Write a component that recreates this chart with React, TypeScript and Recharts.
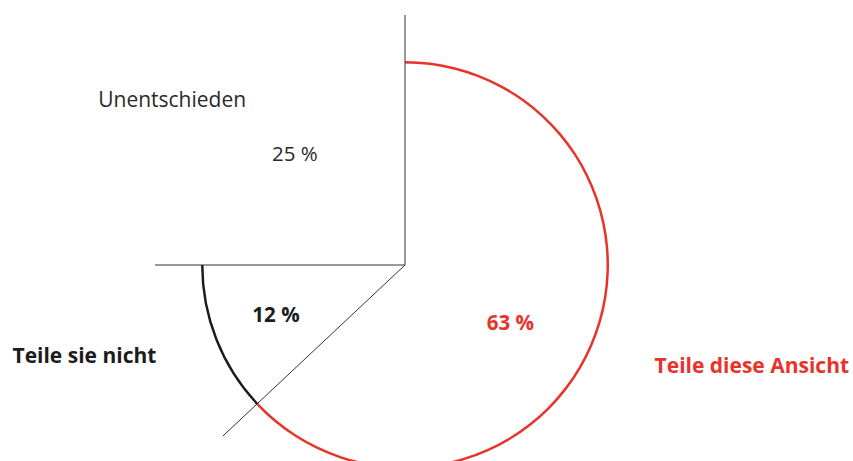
import { PieChart, Pie, Cell } from "recharts";

const categories = ["Teile diese Ansicht", "Teile sie nicht", "Unentschieden"];
const shares = [63, 12, 25];
const percentLabels = ["63 %", "12 %", "25 %"];

const data = categories.map((name, i) => ({ name, value: shares[i], label: percentLabels[i] }));

const ARC_COLORS = ["#e8332b", "#1c1c1c", "transparent"];
const TEXT_COLORS = ["#e8332b", "#1c1c1c", "#2a2a2a"];
const TEXT_WEIGHTS = [700, 700, 400];
const SEPARATOR_RADIUS = 250;

// label placement relative to each slice's mid angle: [angle offset, radius]
const PCT_PLACE = [
  [-5.1, 120],
  [-0.8, 138],
  [-0.5, 157],
];
const NAME_PLACE = [
  [7.3, 361],
  [-5.9, 333],
  [9.5, 286],
];

const RAD = Math.PI / 180;
const polar = (cx: number, cy: number, r: number, angle: number) => ({
  x: cx + r * Math.cos(-angle * RAD),
  y: cy + r * Math.sin(-angle * RAD),
});

function SliceLabel(props: any) {
  const { cx, cy, startAngle, midAngle, index, name, payload } = props;
  const edge = polar(cx, cy, SEPARATOR_RADIUS, startAngle);
  const pct = polar(cx, cy, PCT_PLACE[index][1], midAngle + PCT_PLACE[index][0]);
  const nm = polar(cx, cy, NAME_PLACE[index][1], midAngle + NAME_PLACE[index][0]);
  const font = { fontFamily: "'Open Sans', sans-serif", fill: TEXT_COLORS[index], fontWeight: TEXT_WEIGHTS[index] };
  return (
    <g>
      <line x1={cx} y1={cy} x2={edge.x} y2={edge.y} stroke="#333" strokeWidth={1} />
      <text x={pct.x} y={pct.y} textAnchor="middle" dominantBaseline="central" fontSize={20.5} {...font}>
        {payload.label}
      </text>
      <text x={nm.x} y={nm.y} textAnchor="middle" dominantBaseline="central" fontSize={21} {...font}>
        {name}
      </text>
    </g>
  );
}

export default function App() {
  return (
    <div style={{ position: "absolute", left: 0, top: 0, width: 853, height: 461, background: "#fff" }}>
      <PieChart width={853} height={461} margin={{ top: 0, right: 0, bottom: 0, left: 0 }}>
        <Pie
          data={data}
          dataKey="value"
          nameKey="name"
          cx={405}
          cy={265}
          startAngle={90}
          endAngle={-270}
          innerRadius={201.5}
          outerRadius={204}
          stroke="none"
          label={SliceLabel}
          labelLine={false}
          isAnimationActive={false}
        >
          {data.map((d, i) => (
            <Cell key={d.name} fill={ARC_COLORS[i]} />
          ))}
        </Pie>
      </PieChart>
    </div>
  );
}
